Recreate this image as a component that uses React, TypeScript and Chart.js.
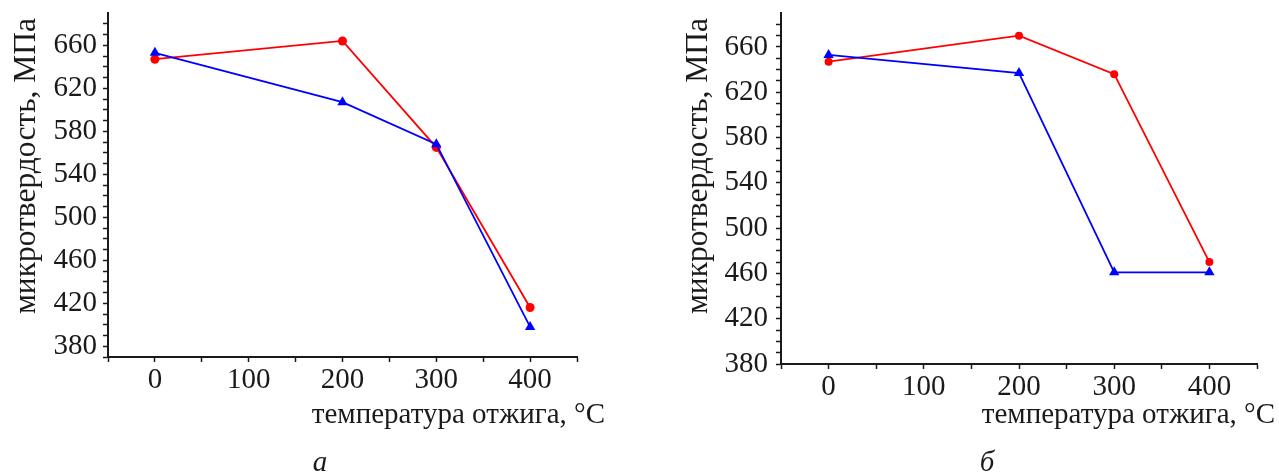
import React, { useEffect, useRef } from "react";
import { Chart, registerables } from "chart.js";

Chart.register(...registerables);

// ---- data ----
const temps = [0, 200, 300, 400];
const redA = [647, 664, 565, 416];
const blueA = [653, 607, 568, 398];
const redB = [647, 670, 636, 470];
const blueB = [653, 637, 461, 461];
const xTickLabels = [0, 100, 200, 300, 400];
const yTickLabels = [380, 420, 460, 500, 540, 580, 620, 660];
const yTitle = "микротвердость, МПа";
const xTitle = "температура отжига, °C";
const panelLetters = ["а", "б"];

const INK = "#1a1a1a";
const FONT = '"Liberation Serif", "Times New Roman", serif';

const textPlugin = {
  id: "panelText",
  afterDraw(chart: any, _args: any, opts: any) {
    const ctx = chart.ctx;
    ctx.save();
    ctx.fillStyle = INK;
    // y title
    ctx.save();
    ctx.font = `31.5px ${FONT}`;
    ctx.translate(opts.yx, opts.yy);
    ctx.rotate(-Math.PI / 2);
    ctx.textAlign = "right";
    ctx.textBaseline = "alphabetic";
    ctx.fillText(yTitle, 0, 0);
    ctx.restore();
    // x title
    ctx.font = `29px ${FONT}`;
    ctx.textAlign = "right";
    ctx.textBaseline = "alphabetic";
    ctx.fillText(xTitle, opts.xx, opts.xy);
    // panel letter
    ctx.font = `italic 29px ${FONT}`;
    ctx.textAlign = "center";
    ctx.fillText(opts.letter, opts.lx, opts.ly);
    ctx.restore();
  },
};

type Panel = {
  red: number[];
  blue: number[];
  yMin: number;
  yMax: number;
  yAxisWidth: number;
  padRight: number;
  padBottom: number;
  yPad: number;
  redR: number;
  triR: number;
  text: any;
};

function makeConfig(p: Panel): any {
  return {
    type: "line",
    data: {
      datasets: [
        {
          label: "blue",
          data: temps.map((t, i) => ({ x: t, y: p.blue[i] })),
          borderColor: "#0000ff",
          backgroundColor: "#0000ff",
          borderWidth: 1.8,
          pointStyle: "triangle",
          pointRadius: p.triR,
          pointBorderWidth: 0,
          tension: 0,
        },
        {
          label: "red",
          data: temps.map((t, i) => ({ x: t, y: p.red[i] })),
          borderColor: "#ff0000",
          backgroundColor: "#ff0000",
          borderWidth: 1.8,
          pointStyle: "circle",
          pointRadius: p.redR,
          pointBorderWidth: 0,
          tension: 0,
        },
      ],
    },
    options: {
      responsive: false,
      animation: false,
      events: [],
      layout: { padding: { left: 0, top: 13, right: p.padRight, bottom: p.padBottom } },
      plugins: {
        legend: { display: false },
        tooltip: { enabled: false },
        title: { display: false },
        panelText: p.text,
      },
      scales: {
        x: {
          type: "linear",
          position: "bottom",
          min: -50,
          max: 450,
          afterFit: (s: any) => {
            s.height = 40;
            s.paddingLeft = 0;
            s.paddingRight = 0;
          },
          ticks: {
            stepSize: 50,
            autoSkip: false,
            maxRotation: 0,
            padding: 1,
            color: INK,
            font: { family: FONT, size: 29 },
            callback: (v: number) => (xTickLabels.includes(v) ? String(v) : ""),
          },
          grid: {
            drawOnChartArea: false,
            drawTicks: true,
            tickLength: 5,
            tickWidth: 1.5,
            tickColor: INK,
          },
          border: { display: true, color: INK, width: 2 },
        },
        y: {
          type: "linear",
          position: "left",
          min: p.yMin,
          max: p.yMax,
          afterFit: (s: any) => {
            s.width = p.yAxisWidth;
            s.paddingTop = 0;
            s.paddingBottom = 0;
          },
          afterBuildTicks: (s: any) => {
            s.ticks = s.ticks.filter((t: any) => t.value <= 680);
          },
          ticks: {
            stepSize: 10,
            autoSkip: false,
            padding: p.yPad,
            color: INK,
            font: { family: FONT, size: 29 },
            callback: (v: number) => (yTickLabels.includes(v) ? String(v) : ""),
          },
          grid: {
            drawOnChartArea: false,
            drawTicks: true,
            tickLength: 5,
            tickWidth: 1.5,
            tickColor: INK,
          },
          border: { display: true, color: INK, width: 2 },
        },
      },
    },
    plugins: [textPlugin],
  };
}

function ChartCanvas({ panel, left, width }: { panel: Panel; left: number; width: number }) {
  const ref = useRef<HTMLCanvasElement>(null);
  useEffect(() => {
    if (!ref.current) return;
    const chart = new Chart(ref.current, makeConfig(panel));
    return () => chart.destroy();
  }, []);
  return (
    <canvas
      ref={ref}
      width={width}
      height={472}
      style={{ position: "absolute", left, top: 0, width, height: 472 }}
    />
  );
}

const panelA: Panel = {
  red: redA,
  blue: blueA,
  yMin: 370,
  yMax: 690,
  yAxisWidth: 108,
  padRight: 63,
  padBottom: 472 - 357 - 40,
  yPad: 6,
  redR: 4.5,
  triR: 6,
  text: { yx: 35, yy: 18, xx: 605, xy: 423, letter: panelLetters[0], lx: 320, ly: 471 },
};

const panelB: Panel = {
  red: redB,
  blue: blueB,
  yMin: 380,
  yMax: 690,
  yAxisWidth: 141,
  padRight: 22,
  padBottom: 472 - 364 - 40,
  yPad: 8,
  redR: 4,
  triR: 6,
  text: { yx: 67, yy: 18, xx: 635, xy: 423, letter: panelLetters[1], lx: 347, ly: 471 },
};

export default function App() {
  return (
    <div
      style={{
        position: "absolute",
        left: 0,
        top: 0,
        width: 1279,
        height: 472,
        background: "#fff",
        overflow: "hidden",
      }}
    >
      <ChartCanvas panel={panelA} left={0} width={640} />
      <ChartCanvas panel={panelB} left={640} width={639} />
    </div>
  );
}
